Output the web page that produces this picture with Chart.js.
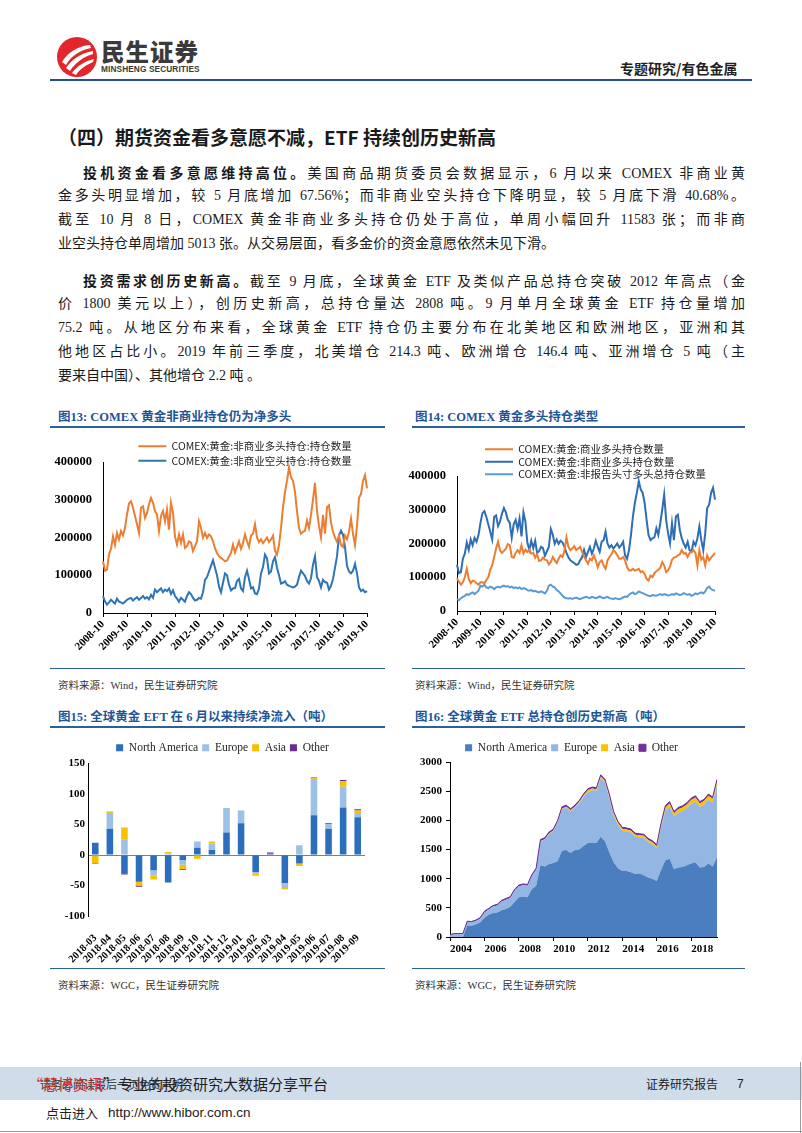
<!DOCTYPE html>
<html>
<head>
<meta charset="utf-8">
<script src="https://cdn.jsdelivr.net/npm/chart.js@4.4.0/dist/chart.umd.min.js"></script>
<style>
body { margin: 0; background: #fff; }
#page { position: relative; width: 802px; height: 1133px; overflow: hidden; font-family: 'Liberation Serif', 'Noto Sans CJK SC', serif; color: #1a1a1a; }
.abs { position: absolute; }
.ln { position: absolute; font-size: 14px; line-height: 24px; height: 24px; white-space: nowrap; text-align: justify; text-align-last: justify; }
.ln.last { text-align: left; text-align-last: left; }
.ln b { font-family: 'Noto Sans CJK SC', sans-serif; font-weight: 700; }
.figt { position: absolute; font-size: 12.5px; font-weight: bold; color: #1f5597; white-space: nowrap; line-height: 18px; }
.rule { position: absolute; height: 1.5px; background: #2c5f9e; }
.src { position: absolute; font-size: 10.5px; color: #333; white-space: nowrap; line-height: 14px; }
canvas { position: absolute; }
</style>
</head>
<body>
<div id="page">

<!-- header -->
<svg class="abs" style="left:56px;top:36px" width="42" height="42" viewBox="0 0 42 42">
  <circle cx="21" cy="21" r="20" fill="#e3262b"/>
  <path d="M6 26 C12 16 22 10 34 9 L35 12 C24 14 15 20 10 29 Z" fill="#fff"/>
  <path d="M10 32 C16 23 25 17 37 15 L37 18 C27 21 19 27 14 35 Z" fill="#fff"/>
  <path d="M16 37 C21 30 29 25 38 23 L37 26 C30 29 24 33 20 39 Z" fill="#fff"/>
</svg>
<div class="abs" style="left:101px;top:36px;font-family:'Noto Sans CJK SC';font-weight:900;font-size:23.5px;color:#3a3a3a;letter-spacing:1px;line-height:30px">民生证券</div>
<div class="abs" style="left:101px;top:64px;font-family:'Liberation Sans';font-weight:bold;font-size:8.3px;color:#3a3a3a;line-height:10px;letter-spacing:0.1px">MINSHENG SECURITIES</div>
<div class="abs" style="left:620px;top:58px;font-family:'Noto Sans CJK SC';font-weight:bold;font-size:14px;color:#222;line-height:20px">专题研究/有色金属</div>
<div class="abs" style="left:50px;top:79px;width:702px;height:2px;background:#23508f"></div>

<!-- heading and text -->
<div class="abs" style="left:58px;top:124px;font-family:'Noto Sans CJK SC';font-weight:bold;font-size:19px;line-height:26px;white-space:nowrap">（四）期货资金看多意愿不减，ETF 持续创历史新高</div>

<div class="ln" style="left:83px;top:160px;width:662px"><b>投机资金看多意愿维持高位。</b>美国商品期货委员会数据显示，6 月以来 COMEX 非商业黄</div>
<div class="ln" style="left:58px;top:184px;width:687px">金多头明显增加，较 5 月底增加 67.56%；而非商业空头持仓下降明显，较 5 月底下滑 40.68%。</div>
<div class="ln" style="left:58px;top:208px;width:687px">截至 10 月 8 日，COMEX 黄金非商业多头持仓仍处于高位，单周小幅回升 11583 张；而非商</div>
<div class="ln last" style="left:58px;top:232px;width:687px">业空头持仓单周增加 5013 张。从交易层面，看多金价的资金意愿依然未见下滑。</div>

<div class="ln" style="left:83px;top:268px;width:662px"><b>投资需求创历史新高。</b>截至 9 月底，全球黄金 ETF 及类似产品总持仓突破 2012 年高点（金</div>
<div class="ln" style="left:58px;top:292px;width:687px">价 1800 美元以上），创历史新高，总持仓量达 2808 吨。9 月单月全球黄金 ETF 持仓量增加</div>
<div class="ln" style="left:58px;top:316px;width:687px">75.2 吨。从地区分布来看，全球黄金 ETF 持仓仍主要分布在北美地区和欧洲地区，亚洲和其</div>
<div class="ln" style="left:58px;top:340px;width:687px">他地区占比小。2019 年前三季度，北美增仓 214.3 吨、欧洲增仓 146.4 吨、亚洲增仓 5 吨（主</div>
<div class="ln last" style="left:58px;top:364px;width:687px">要来自中国）、其他增仓 2.2 吨 。</div>

<!-- figure titles / rules / sources -->
<div class="figt" style="left:58px;top:408px">图13: COMEX 黄金非商业持仓仍为净多头</div>
<div class="rule" style="left:50px;top:426px;width:335px"></div>
<div class="figt" style="left:415px;top:408px">图14: COMEX 黄金多头持仓类型</div>
<div class="rule" style="left:412px;top:426px;width:333px"></div>
<div class="rule" style="left:50px;top:668px;width:335px;height:1px"></div>
<div class="rule" style="left:412px;top:668px;width:333px;height:1px"></div>
<div class="src" style="left:58px;top:679px">资料来源：Wind，民生证券研究院</div>
<div class="src" style="left:415px;top:679px">资料来源：Wind，民生证券研究院</div>

<div class="figt" style="left:58px;top:708px">图15: 全球黄金 EFT 在 6 月以来持续净流入（吨）</div>
<div class="rule" style="left:50px;top:726px;width:335px"></div>
<div class="figt" style="left:415px;top:708px">图16: 全球黄金 ETF 总持仓创历史新高（吨）</div>
<div class="rule" style="left:412px;top:726px;width:333px"></div>
<div class="rule" style="left:50px;top:968px;width:335px;height:1px"></div>
<div class="rule" style="left:412px;top:968px;width:333px;height:1px"></div>
<div class="src" style="left:58px;top:979px">资料来源：WGC，民生证券研究院</div>
<div class="src" style="left:415px;top:979px">资料来源：WGC，民生证券研究院</div>

<canvas id="c13" width="335" height="230" style="left:50px;top:437px"></canvas>
<canvas id="c14" width="340" height="225" style="left:405px;top:442px"></canvas>
<canvas id="c15" width="335" height="229" style="left:50px;top:738px"></canvas>
<canvas id="c16" width="340" height="229" style="left:405px;top:738px"></canvas>

<!-- footer -->
<div class="abs" style="left:0;top:1067px;width:802px;height:33px;background:#cfdcea"></div>
<div class="abs" style="left:40px;top:1076px;font-family:'Noto Sans CJK SC';font-size:11px;color:#333;line-height:16px;white-space:nowrap">请务必阅读最后一页免责声明</div>
<div class="abs" style="left:28px;top:1073px;font-family:'Noto Sans CJK SC';font-size:15px;line-height:22px;white-space:nowrap;color:#222"><span style="color:#d22a2a">“慧博资讯</span>”专业的投资研究大数据分享平台</div>
<div class="abs" style="left:646px;top:1076px;font-family:'Noto Sans CJK SC';font-size:12px;color:#222;line-height:16px">证券研究报告</div>
<div class="abs" style="left:737px;top:1076px;font-family:'Liberation Sans';font-size:12px;color:#222;line-height:16px">7</div>
<div class="abs" style="left:46px;top:1104px;font-family:'Noto Sans CJK SC';font-size:13px;color:#222;line-height:18px;white-space:nowrap">点击进入</div>
<div class="abs" style="left:108px;top:1104px;font-family:'Liberation Sans';font-size:13.5px;color:#222;line-height:18px;white-space:nowrap">http://www.hibor.com.cn</div>
<div class="abs" style="left:800px;top:1062px;width:1px;height:71px;background:#999"></div>
<div class="abs" style="left:0;top:1131px;width:802px;height:1px;background:#999"></div>

</div>
<script>
// ---- 图13 / 图14 : COMEX 黄金持仓 (月度, 2008-10 ~ 2019-10)
var months = []
for (var y = 2008, m = 10; y < 2019 || (y === 2019 && m <= 10);) {
    months.push(y + '-' + (m < 10 ? '0' + m : m))
    m++
    if (m > 12) { m = 1; y++ }
}

var nonCommLong = [
    137000, 112000, 115000, 155000, 170000, 203000, 181000, 212000, 195000, 217000, 205000, 225000,
    261000, 290000, 296000, 279000, 257000, 235000, 212000, 279000, 283000, 252000, 265000, 288000,
    305000, 292000, 270000, 261000, 217000, 257000, 270000, 243000, 274000, 221000, 292000, 265000,
    203000, 181000, 208000, 186000, 208000, 172000, 177000, 190000, 186000, 164000, 177000, 190000,
    243000, 226000, 199000, 212000, 199000, 208000, 203000, 190000, 172000, 159000, 150000, 146000,
    142000, 137000, 139000, 150000, 159000, 181000, 160000, 175000, 190000, 170000, 185000, 208000,
    190000, 175000, 205000, 210000, 235000, 200000, 188000, 195000, 185000, 192000, 200000, 188000,
    195000, 205000, 165000, 155000, 180000, 225000, 280000, 320000, 350000, 385000, 360000, 350000,
    320000, 270000, 225000, 210000, 215000, 218000, 245000, 225000, 260000, 300000, 345000, 270000,
    230000, 200000, 260000, 210000, 280000, 285000, 240000, 215000, 200000, 188000, 205000, 180000,
    175000, 205000, 195000, 215000, 250000, 210000, 180000, 230000, 305000, 315000, 350000, 365000, 330000
]
var nonCommShort = [
    45000, 30000, 22000, 28000, 35000, 30000, 25000, 38000, 30000, 28000, 25000, 30000,
    35000, 38000, 40000, 33000, 38000, 42000, 35000, 40000, 45000, 38000, 42000, 36000,
    48000, 40000, 62000, 55000, 60000, 65000, 55000, 62000, 58000, 65000, 50000, 60000,
    45000, 38000, 30000, 40000, 35000, 30000, 45000, 55000, 50000, 40000, 33000, 35000,
    40000, 38000, 55000, 88000, 95000, 110000, 125000, 140000, 120000, 100000, 70000, 55000,
    80000, 105000, 100000, 75000, 60000, 65000, 66000, 85000, 90000, 65000, 58000, 95000,
    112000, 90000, 65000, 68000, 52000, 50000, 65000, 105000, 122000, 155000, 145000, 105000,
    110000, 137000, 148000, 120000, 100000, 78000, 80000, 84000, 75000, 72000, 70000, 68000,
    70000, 75000, 95000, 112000, 105000, 98000, 85000, 78000, 92000, 128000, 150000, 95000,
    85000, 68000, 88000, 82000, 80000, 62000, 72000, 90000, 120000, 150000, 205000, 218000,
    208000, 175000, 125000, 110000, 105000, 112000, 130000, 105000, 68000, 58000, 62000, 55000, 58000
]
var commLong = [
    97000, 87000, 78000, 85000, 100000, 125000, 95000, 82000, 90000, 88000, 82000, 78000,
    85000, 85000, 82000, 92000, 100000, 122000, 135000, 160000, 185000, 205000, 180000, 172000,
    178000, 185000, 198000, 195000, 160000, 158000, 172000, 180000, 172000, 195000, 170000, 182000,
    175000, 182000, 170000, 172000, 158000, 168000, 148000, 150000, 158000, 152000, 150000, 138000,
    145000, 160000, 150000, 142000, 155000, 165000, 160000, 180000, 218000, 190000, 180000, 185000,
    192000, 180000, 185000, 190000, 175000, 162000, 150000, 140000, 155000, 150000, 165000, 150000,
    130000, 145000, 150000, 135000, 125000, 150000, 160000, 168000, 180000, 175000, 165000, 155000,
    155000, 160000, 150000, 130000, 120000, 120000, 125000, 120000, 122000, 125000, 115000, 118000,
    110000, 95000, 90000, 105000, 100000, 112000, 118000, 122000, 128000, 145000, 135000, 115000,
    120000, 132000, 152000, 158000, 160000, 165000, 168000, 180000, 170000, 172000, 160000, 172000,
    175000, 180000, 172000, 135000, 180000, 152000, 160000, 135000, 165000, 150000, 158000, 165000, 172000
]
var nonReportLong = [
    35000, 32000, 38000, 42000, 45000, 50000, 48000, 52000, 55000, 50000, 55000, 60000,
    75000, 72000, 78000, 70000, 68000, 72000, 70000, 65000, 70000, 72000, 70000, 73000,
    75000, 72000, 74000, 70000, 72000, 68000, 70000, 67000, 70000, 65000, 68000, 66000,
    62000, 60000, 62000, 58000, 60000, 57000, 55000, 58000, 55000, 52000, 60000, 75000,
    78000, 72000, 70000, 62000, 58000, 52000, 45000, 40000, 38000, 37000, 38000, 36000,
    38000, 40000, 37000, 35000, 38000, 40000, 42000, 40000, 38000, 42000, 40000, 38000,
    40000, 43000, 40000, 38000, 40000, 42000, 38000, 37000, 35000, 38000, 36000, 35000,
    37000, 40000, 43000, 42000, 48000, 52000, 55000, 50000, 52000, 58000, 55000, 53000,
    50000, 47000, 45000, 44000, 47000, 46000, 45000, 48000, 50000, 47000, 50000, 48000,
    46000, 47000, 50000, 48000, 52000, 50000, 47000, 49000, 53000, 50000, 48000, 50000,
    45000, 48000, 52000, 50000, 53000, 55000, 52000, 58000, 68000, 72000, 65000, 62000, 60000
]

// ---- 图15 : 全球黄金ETF月度流入 (吨)
var flowMonths = ['2018-03', '2018-04', '2018-05', '2018-06', '2018-07', '2018-08', '2018-09', '2018-10', '2018-11', '2018-12',
    '2019-01', '2019-02', '2019-03', '2019-04', '2019-05', '2019-06', '2019-07', '2019-08', '2019-09']
var flowNA     = [20, 43, -30, -44, -25, -45, -8, 12, 8, 37, 52, -28, 3, -46, -14, 65, 43, 78, 62]
var flowEurope = [0, 26, 25, 0, -8, 2, -8, 10, 11, 40, 21, -2, 0, -8, 16, 58, 8, 34, 7]
var flowAsia   = [-13, 1, 20, -6, -7, 3, -7, -6, 3, 0, 0, -4, 0, -2, -4, 3, 0, 9, 4]
var flowOther  = [-1, 1, -2, -2, 0, 0, -1, 0, 0, 0, -1, 0, 1, 0, 0, 1, 1, 2, 2]

// ---- 图16 : 全球黄金ETF总持仓 (季度, 吨)
var quarters = []
for (var qy = 2004, qm = 1; qy < 2019 || (qy === 2019 && qm <= 7);) {
    quarters.push(qy + '-' + (qm < 10 ? '0' + qm : qm))
    qm += 3
    if (qm > 12) { qm = 1; qy++ }
}
var holdNA = [0, 0, 0, 0, 195, 195, 215, 250, 330, 380, 410, 420, 460, 480, 520, 600,
    680, 690, 680, 820, 880, 1230, 1210, 1250, 1270, 1300, 1480, 1490, 1440, 1490, 1500, 1560,
    1610, 1620, 1610, 1720, 1640, 1450, 1280, 1180, 1130, 1130, 1110, 1080, 1090, 1060, 1020, 1000,
    960, 1150, 1310, 1340, 1160, 1190, 1200, 1230, 1260, 1280, 1190, 1200, 1260, 1210, 1370]
var holdEurope = [30, 48, 46, 48, 60, 55, 60, 65, 92, 92, 112, 120, 150, 160, 150, 198,
    188, 198, 198, 228, 272, 410, 460, 517, 545, 663, 710, 730, 717, 725, 793, 840,
    877, 895, 895, 1003, 1003, 940, 810, 740, 690, 680, 680, 640, 620, 640, 610, 590,
    560, 725, 860, 895, 905, 940, 960, 978, 1025, 1045, 1038, 1070, 1095, 1095, 1230]
var holdAsia = [0, 0, 0, 0, 0, 0, 0, 0, 0, 0, 0, 0, 0, 0, 0, 0,
    0, 0, 0, 0, 3, 5, 5, 8, 10, 12, 15, 15, 18, 20, 22, 25,
    28, 30, 30, 32, 32, 35, 35, 35, 35, 35, 35, 35, 35, 35, 35, 35,
    35, 45, 50, 55, 55, 60, 60, 62, 65, 65, 62, 60, 65, 65, 70]
var holdOther = [10, 12, 12, 12, 15, 15, 15, 15, 18, 18, 18, 20, 20, 20, 20, 22,
    22, 22, 22, 22, 25, 25, 25, 25, 25, 25, 25, 25, 25, 25, 25, 25,
    25, 25, 25, 25, 25, 25, 25, 25, 25, 25, 25, 25, 25, 25, 25, 25,
    25, 30, 30, 30, 30, 30, 30, 30, 30, 30, 30, 30, 30, 30, 30]

// ------------------------------------------------------------
var serifBold = function (size) { return { family: "'Liberation Serif'", weight: 'bold', size: size } }
var cjk = { family: "'Noto Sans CJK SC'", size: 10.5 }

// move the legend sideways and let it spill over the plot top (like the excel original)
var legendShift = {
    id: 'legendShift',
    afterLayout: function (chart, args, opts) {
        var lg = chart.legend
        if (!lg || !opts) return
        if (opts.dx) {
            lg.left += opts.dx
            lg.right += opts.dx
        }
        if (opts.grow) {
            lg.bottom += opts.grow
            lg.height += opts.grow
        }
    }
}

function fixWidth(w) { return function (s) { s.width = w } }
function fixHeight(h) { return function (s) { s.height = h } }
function plain(v) { return String(v) }

function octOnly(v) {
    var lab = this.getLabelForValue(v)
    return lab.slice(5) === '10' ? lab : null
}

function lineSet(label, data, color) {
    return { label: label, data: data, borderColor: color, backgroundColor: color, borderWidth: 2, pointRadius: 0, tension: 0, fill: false }
}

function cotOptions(yW, xH, padRight, legendH, legendPad, align, dx) {
    return {
        responsive: false,
        animation: false,
        devicePixelRatio: 1,
        layout: { padding: { top: 0, left: 0, right: padRight, bottom: 0 } },
        plugins: {
            legend: {
                position: 'top', fullSize: false, align: align, maxHeight: legendH,
                labels: { usePointStyle: true, pointStyle: 'line', pointStyleWidth: 28, boxHeight: 10, padding: legendPad, font: cjk, color: '#222' }
            },
            tooltip: { enabled: false },
            legendShift: { dx: dx, grow: 30 }
        },
        scales: {
            x: {
                grid: { display: true, drawOnChartArea: false, tickLength: 4, color: '#000' },
                border: { color: '#000', width: 1 },
                ticks: { autoSkip: false, maxRotation: 45, minRotation: 45, padding: 1, font: serifBold(11), color: '#000', callback: octOnly },
                afterFit: fixHeight(xH)
            },
            y: {
                min: 0, max: 400000,
                grid: { display: false },
                border: { display: true, color: '#000', width: 1 },
                ticks: { stepSize: 100000, padding: 3, font: serifBold(12.5), color: '#000', callback: plain },
                afterFit: fixWidth(yW)
            }
        }
    }
}

new Chart(document.getElementById('c13'), {
    type: 'line',
    data: {
        labels: months,
        datasets: [
            lineSet('COMEX:黄金:非商业多头持仓:持仓数量', nonCommLong, '#ed7d31'),
            lineSet('COMEX:黄金:非商业空头持仓:持仓数量', nonCommShort, '#2e75b6')
        ]
    },
    options: cotOptions(53, 54, 18, 25, 4, 'center', 10),
    plugins: [legendShift]
})

new Chart(document.getElementById('c14'), {
    type: 'line',
    data: {
        labels: months,
        datasets: [
            lineSet('COMEX:黄金:商业多头持仓数量', commLong, '#ed7d31'),
            lineSet('COMEX:黄金:非商业多头持仓数量', nonCommLong, '#2f6db5'),
            lineSet('COMEX:黄金:非报告头寸多头总持仓数量', nonReportLong, '#5b9bd5')
        ]
    },
    options: cotOptions(52, 56, 30, 34, 2, 'start', 26),
    plugins: [legendShift]
})

// ---- 图15
new Chart(document.getElementById('c15'), {
    type: 'bar',
    data: {
        labels: flowMonths,
        datasets: [
            { label: 'North America', data: flowNA, backgroundColor: '#2a6ebd' },
            { label: 'Europe', data: flowEurope, backgroundColor: '#9dc0e7' },
            { label: 'Asia', data: flowAsia, backgroundColor: '#f6c100' },
            { label: 'Other', data: flowOther, backgroundColor: '#6a2c91' }
        ]
    },
    options: {
        responsive: false,
        animation: false,
        devicePixelRatio: 1,
        layout: { padding: { top: 0, left: 0, right: 20, bottom: 0 } },
        datasets: { bar: { categoryPercentage: 0.5, barPercentage: 0.9 } },
        plugins: {
            legend: {
                position: 'top', fullSize: false, maxHeight: 27,
                labels: { boxWidth: 7, boxHeight: 7, padding: 4, font: { family: "'Liberation Serif'", size: 11.5 }, color: '#222' }
            },
            tooltip: { enabled: false },
            legendShift: { dx: -4, grow: 10 }
        },
        scales: {
            x: {
                stacked: true,
                grid: { display: false },
                border: { display: false },
                ticks: { autoSkip: false, maxRotation: 45, minRotation: 45, padding: 8, font: serifBold(10.5), color: '#000' },
                afterFit: fixHeight(51)
            },
            y: {
                stacked: true,
                min: -100, max: 150,
                grid: {
                    drawTicks: false,
                    color: function (c) { return c.tick && c.tick.value === 0 ? '#7f7f7f' : 'rgba(0,0,0,0)' }
                },
                border: { display: true, color: '#000', width: 1 },
                ticks: { stepSize: 50, padding: 3, font: serifBold(11), color: '#000', callback: plain },
                afterFit: fixWidth(38)
            }
        }
    },
    plugins: [legendShift]
})

// ---- 图16
function areaSet(label, data, color, fill, edge) {
    return { label: label, data: data, backgroundColor: color, borderColor: edge || color, borderWidth: edge ? 1 : 0, pointRadius: 0, tension: 0, fill: fill }
}

new Chart(document.getElementById('c16'), {
    type: 'line',
    data: {
        labels: quarters,
        datasets: [
            areaSet('North America', holdNA, '#4a7ebf', 'origin'),
            areaSet('Europe', holdEurope, '#93b6e2', '-1'),
            areaSet('Asia', holdAsia, '#fbc200', '-1'),
            areaSet('Other', holdOther, '#7030a0', '-1', '#6a2c91')
        ]
    },
    options: {
        responsive: false,
        animation: false,
        devicePixelRatio: 1,
        layout: { padding: { top: 0, left: 0, right: 28, bottom: 0 } },
        plugins: {
            legend: {
                position: 'top', fullSize: false, maxHeight: 24,
                labels: { boxWidth: 7, boxHeight: 7, padding: 4, font: { family: "'Liberation Serif'", size: 11.5 }, color: '#222' }
            },
            tooltip: { enabled: false },
            legendShift: { dx: -12, grow: 10 },
            filler: { drawTime: 'beforeDatasetsDraw' }
        },
        scales: {
            x: {
                grid: { display: true, drawOnChartArea: false, tickLength: 4, color: '#000' },
                border: { color: '#000', width: 1 },
                ticks: {
                    autoSkip: false, maxRotation: 0, minRotation: 0, align: 'start', padding: 2,
                    font: serifBold(11), color: '#000',
                    callback: function (v) {
                        var lab = this.getLabelForValue(v)
                        var yr = +lab.slice(0, 4)
                        return lab.slice(5) === '01' && yr % 2 === 0 ? String(yr) : null
                    }
                },
                afterFit: fixHeight(30)
            },
            y: {
                stacked: true,
                min: 0, max: 3000,
                grid: { display: true, drawOnChartArea: false, tickLength: 4, color: '#000' },
                border: { display: true, color: '#000', width: 1 },
                ticks: { stepSize: 500, padding: 4, font: serifBold(11), color: '#000', callback: plain },
                afterFit: fixWidth(45)
            }
        }
    },
    plugins: [legendShift]
})
</script>
</body>
</html>
